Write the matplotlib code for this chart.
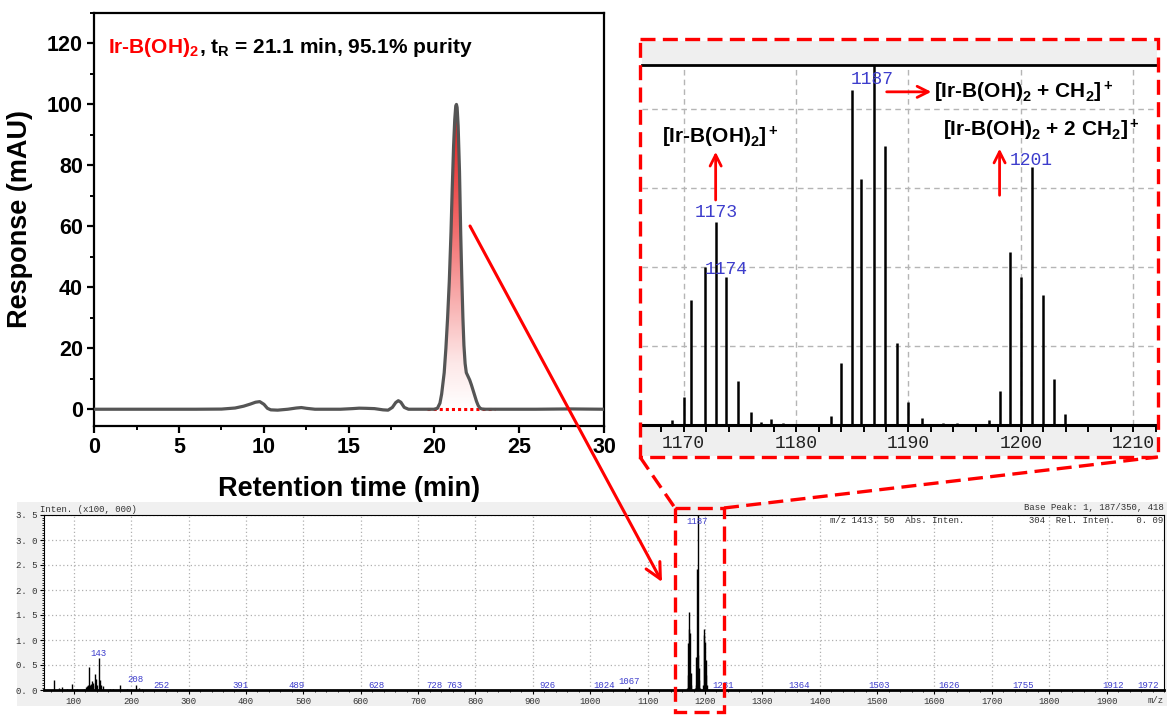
import numpy as np
import matplotlib.pyplot as plt
from matplotlib.colors import LinearSegmentedColormap
from matplotlib.patches import Rectangle
from matplotlib.ticker import MultipleLocator

plt.rcParams['font.family'] = ['Liberation Sans', 'DejaVu Sans']
plt.rcParams['mathtext.fontset'] = 'custom'
plt.rcParams['mathtext.rm'] = 'Liberation Sans:bold'
plt.rcParams['mathtext.it'] = 'Liberation Sans:bold'
plt.rcParams['mathtext.bf'] = 'Liberation Sans:bold'
plt.rcParams['mathtext.default'] = 'rm'

MONO = 'Liberation Mono'
BLUE = '#3d3dcc'
RED = '#ff0000'

# ---- HPLC trace (min, mAU) ----
rt = [0.0, 3.0, 6.0, 7.5, 8.3, 8.8, 9.2, 9.5, 9.75, 10.0, 10.2, 10.4, 10.8,
      11.4, 11.9, 12.2, 12.5, 13.0, 14.5, 15.2, 15.6, 16.0, 16.5, 17.0, 17.3,
      17.55, 17.75, 17.9, 18.05, 18.25, 18.5, 19.0, 20.0, 20.2, 20.35, 20.45,
      20.6, 20.7, 20.8, 20.9, 21.0, 21.07, 21.15, 21.22, 21.28, 21.32, 21.36,
      21.42, 21.5, 21.57, 21.63, 21.7, 21.76, 21.83, 21.9, 22.0, 22.1, 22.2,
      22.3, 22.4, 22.5, 22.6, 22.7, 22.8, 23.0, 24.0, 26.0, 28.0, 30.0]
resp = [0.0, 0.0, 0.0, 0.05, 0.4, 1.0, 1.7, 2.3, 2.5, 1.6, 0.3, -0.2, -0.3,
        0.0, 0.4, 0.55, 0.3, 0.0, 0.0, 0.2, 0.35, 0.3, 0.2, -0.2, -0.3,
        0.6, 2.2, 2.8, 2.3, 0.6, 0.0, 0.0, 0.0, 0.3, 2.0, 5.0,
        12.0, 20.0, 30.0, 42.0, 58.0, 72.0, 86.0, 95.0, 99.5, 100.0, 99.0,
        93.0, 78.0, 58.0, 44.0, 30.0, 21.0, 15.0, 12.0, 10.8, 9.6, 8.0,
        6.2, 4.4, 2.6, 1.2, 0.4, 0.1, 0.0, 0.0, 0.0, 0.1, 0.0]
peak_window = [20.2, 22.8]
baseline_x = [19.6, 23.6]
hplc_xticks = [0, 5, 10, 15, 20, 25, 30]
hplc_yticks = [0, 20, 40, 60, 80, 100, 120]

# ---- MS zoom of the isotope cluster (inset grid units) ----
zoom_mz = [1169.0, 1170.0, 1170.7, 1171.9, 1172.9, 1173.8, 1174.8, 1176.0,
           1176.9, 1177.8, 1178.8, 1183.1, 1184.0, 1185.0, 1185.8, 1186.9,
           1187.9, 1189.0, 1190.0, 1191.2, 1193.1, 1194.3, 1197.2, 1198.1,
           1199.0, 1200.0, 1201.0, 1202.0, 1202.9, 1203.9]
zoom_int = [0.06, 0.36, 1.58, 2.00, 2.57, 1.88, 0.56, 0.17,
            0.04, 0.07, 0.03, 0.11, 0.78, 4.24, 3.11, 4.80,
            3.53, 1.04, 0.29, 0.09, 0.03, 0.03, 0.06, 0.43,
            2.19, 1.88, 3.27, 1.65, 0.58, 0.14]
zoom_xticks = [1170, 1180, 1190, 1200, 1210]
zoom_labels = ['1173', '1174', '1187', '1201']
zoom_label_x = [1172.9, 1173.8, 1186.8, 1200.9]
zoom_label_y = [2.69, 1.97, 4.37, 3.35]

# ---- full MS spectrum (x100,000) ----
full_mz = [65, 75, 80, 88, 97, 105, 117, 121, 123, 125, 126, 128, 130, 131,
           133, 134, 137, 139, 141, 143, 145, 148, 150, 163, 168, 181, 192,
           208, 213, 218, 252, 391, 489, 628, 728, 763, 926, 1024, 1055, 1067,
           1072, 1169, 1170, 1171, 1172, 1173, 1174, 1175, 1176, 1183, 1184,
           1185, 1186, 1187, 1188, 1189, 1190, 1191, 1197, 1198, 1199, 1200,
           1201, 1202, 1203, 1231, 1364, 1503, 1626, 1755, 1912, 1972]
full_int = [0.21, 0.05, 0.07, 0.03, 0.13, 0.03, 0.02, 0.06, 0.08, 0.10, 0.47,
            0.10, 0.12, 0.18, 0.10, 0.15, 0.32, 0.22, 0.10, 0.64, 0.20, 0.10,
            0.08, 0.03, 0.02, 0.11, 0.03, 0.10, 0.05, 0.03, 0.01, 0.01, 0.01,
            0.01, 0.01, 0.01, 0.01, 0.01, 0.03, 0.06, 0.02, 0.05, 0.30, 0.95,
            1.23, 1.56, 1.15, 0.35, 0.10, 0.05, 0.10, 0.67, 2.43, 3.504, 0.70,
            0.44, 0.20, 0.05, 0.10, 1.10, 1.23, 0.96, 0.60, 0.30, 0.10, 0.01,
            0.01, 0.01, 0.01, 0.01, 0.01, 0.01]
full_xticks = list(range(100, 2000, 100))
full_yticks = [0.0, 0.5, 1.0, 1.5, 2.0, 2.5, 3.0, 3.5]
full_labels = ['143', '208', '252', '391', '489', '628', '728', '763', '926',
               '1024', '1067', '1187', '1231', '1364', '1503', '1626', '1755',
               '1912', '1972']
full_label_x = [143, 208, 252, 391, 489, 628, 728, 763, 926, 1024, 1067,
                1187, 1231, 1364, 1503, 1626, 1755, 1912, 1972]
full_label_y = [0.72, 0.2, 0.09, 0.09, 0.09, 0.09, 0.09, 0.09, 0.09, 0.09,
                0.17, 3.38, 0.09, 0.09, 0.09, 0.09, 0.09, 0.09, 0.09]

W, H = 1167, 715
fig = plt.figure(figsize=(W / 100, H / 100), dpi=100)


def box(l, t, r, b):
    # pixel box -> figure fraction
    return [l / W, 1 - b / H, (r - l) / W, (b - t) / H]


# ================= HPLC =================
ax = fig.add_axes(box(94, 13, 604, 426))
t = np.array(rt)
y = np.array(resp)
m = (t >= peak_window[0]) & (t <= peak_window[1])
poly = ax.fill_between(t[m], 0, y[m], facecolor='none', edgecolor='none')
cmap = LinearSegmentedColormap.from_list(
    'rw', [(0, '#ffffff'), (0.15, '#fde8e8'), (0.6, '#f26a6a'), (1, '#e01818')])
grad = np.linspace(0, 1, 256).reshape(-1, 1)
im = ax.imshow(grad, extent=[peak_window[0], peak_window[1], 0, 100],
               origin='lower', aspect='auto', cmap=cmap, zorder=1)
im.set_clip_path(poly.get_paths()[0], transform=ax.transData)
ax.plot(baseline_x, [0, 0], ls=(0, (1, 1)), color=RED, lw=2.2, zorder=2)
ax.plot(t, y, color='#555555', lw=2.3, zorder=3)

ax.set_xlim(0, 30)
ax.set_ylim(-5.5, 130)
ax.set_xticks(hplc_xticks)
ax.set_xticklabels([str(v) for v in hplc_xticks], fontweight='bold')
ax.set_yticks(hplc_yticks)
ax.set_yticklabels([str(v) for v in hplc_yticks], fontweight='bold')
ax.xaxis.set_minor_locator(MultipleLocator(2.5))
ax.yaxis.set_minor_locator(MultipleLocator(10))
ax.tick_params(which='major', direction='out', length=5, width=1.6,
               labelsize=15.5, pad=3)
ax.tick_params(which='minor', direction='out', length=3, width=1.4)
for s in ax.spines.values():
    s.set_linewidth(1.6)
ax.set_xlabel('Retention time (min)', fontsize=19.5, fontweight='bold')
ax.set_ylabel('Response (mAU)', fontsize=19.5, fontweight='bold')
ax.xaxis.set_label_coords(0.5, -0.12)
ax.yaxis.set_label_coords(-0.12, 0.5)

ttl = ax.text(0.82, 117, r'Ir-B(OH)$_2$', color=RED, fontsize=15,
              fontweight='bold', ha='left', va='baseline')
ax.annotate(r', t$_\mathrm{R}$ = 21.1 min, 95.1% purity', xy=(1, 0),
            xycoords=ttl, ha='left', va='bottom', fontsize=15,
            fontweight='bold', color='black')

# ================= MS zoom inset =================
bg2 = fig.add_axes(box(642, 41, 1157, 456))
bg2.set_facecolor('#efefef')
bg2.set_xticks([])
bg2.set_yticks([])
for s in bg2.spines.values():
    s.set_visible(False)

ax2 = fig.add_axes(box(642, 65, 1157, 425))
ax2.vlines(zoom_mz, 0, zoom_int, color='black', lw=1.8)
ax2.set_xlim(1166.3, 1212.1)
ax2.set_ylim(0, 4.56)
ax2.set_xticks(zoom_xticks)
ax2.xaxis.set_minor_locator(MultipleLocator(2))
ax2.set_yticks([1, 2, 3, 4])
ax2.grid(True, ls=(0, (4, 3)), color='#b5b5b5', lw=1)
ax2.tick_params(axis='y', length=0, labelleft=False)
ax2.tick_params(axis='x', which='both', direction='out', length=5, width=1.4,
                labelsize=13, labelcolor='#222222', labelfontfamily=MONO, pad=2)
ax2.spines['left'].set_visible(False)
ax2.spines['right'].set_visible(False)
ax2.spines['top'].set_linewidth(2)
ax2.spines['bottom'].set_linewidth(2.2)

for lab, lx, ly in zip(zoom_labels, zoom_label_x, zoom_label_y):
    ax2.text(lx, ly, lab, color=BLUE, fontsize=13, family=MONO,
             ha='center', va='center')

arrow_kw = dict(arrowstyle='->', color=RED, lw=2, mutation_scale=20,
                shrinkA=0, shrinkB=0)
ax2.text(1173.3, 3.57, r'[Ir-B(OH)$_2$]$^+$', ha='center', va='baseline',
         fontsize=15, fontweight='bold')
ax2.annotate('', xy=(1172.85, 3.46), xytext=(1172.85, 2.85), arrowprops=arrow_kw)
ax2.annotate('', xy=(1192.03, 4.22), xytext=(1188.06, 4.22), arrowprops=arrow_kw)
ax2.text(1192.3, 4.14, r'[Ir-B(OH)$_2$ + CH$_2$]$^+$', ha='left',
         va='baseline', fontsize=15, fontweight='bold')
ax2.text(1193.1, 3.65, r'[Ir-B(OH)$_2$ + 2 CH$_2$]$^+$', ha='left',
         va='baseline', fontsize=15, fontweight='bold')
ax2.annotate('', xy=(1198.1, 3.5), xytext=(1198.1, 2.91), arrowprops=arrow_kw)

# ================= full MS spectrum =================
bg3 = fig.add_axes(box(17, 502, 1167, 706))
bg3.set_facecolor('#f0f0f0')
bg3.set_xticks([])
bg3.set_yticks([])
for s in bg3.spines.values():
    s.set_visible(False)

ax3 = fig.add_axes(box(44, 515, 1164, 690))
ax3.vlines(full_mz, 0, full_int, color='black', lw=1)
ax3.set_xlim(48, 2000)
ax3.set_ylim(0, 3.5)
ax3.set_xticks(full_xticks)
ax3.set_yticks(full_yticks)
ax3.set_yticklabels([('%.1f' % v).replace('.', '. ') for v in full_yticks])
ax3.xaxis.set_minor_locator(MultipleLocator(20))
ax3.yaxis.set_minor_locator(MultipleLocator(0.05))
ax3.grid(True, which='major', ls=(0, (1, 2)), color='#b0b0b0', lw=0.9)
ax3.tick_params(which='major', direction='out', length=3, width=0.8,
                labelsize=6.5, labelcolor='#333333', labelfontfamily=MONO, pad=2)
ax3.tick_params(which='minor', direction='out', length=1.5, width=0.6)
for s in ax3.spines.values():
    s.set_linewidth(0.8)
ax3.spines['bottom'].set_linewidth(2)

txt_kw = dict(transform=ax3.transAxes, family=MONO, fontsize=6.5, color='#333333')
ax3.text(-0.004, 1.03, 'Inten. (x100, 000)', ha='left', va='center', **txt_kw)
ax3.text(1.0, 1.04, 'Base Peak: 1, 187/350, 418', ha='right', va='center', **txt_kw)
ax3.text(0.999, 0.966, 'm/z 1413. 50  Abs. Inten.' + ' ' * 12 + '304  Rel. Inten.    0. 09',
         ha='right', va='center', **txt_kw)
ax3.text(1.0, -0.034, 'm/z', ha='right', va='top', **txt_kw)
for lab, lx, ly in zip(full_labels, full_label_x, full_label_y):
    ax3.text(lx, ly, lab, color=BLUE, fontsize=6.5, family=MONO,
             ha='center', va='center')

# ================= overlay: zoom frame and arrows =================
ov = fig.add_axes([0, 0, 1, 1], zorder=10)
ov.set_xlim(0, W)
ov.set_ylim(H, 0)
ov.axis('off')
dash = (0, (4.5, 2.2))
ov.add_patch(Rectangle((640, 39), 518, 418, fill=False, ec=RED, lw=2.4, ls=dash))
ov.add_patch(Rectangle((675, 508), 49, 204, fill=False, ec=RED, lw=2.4, ls=dash))
ov.plot([640, 675], [457, 508], color=RED, lw=2.4, ls=dash)
ov.plot([724, 1158], [508, 457], color=RED, lw=2.4, ls=dash)
ov.annotate('', xy=(662, 582), xytext=(470, 226),
            arrowprops=dict(arrowstyle='->', color=RED, lw=2.2,
                            mutation_scale=28, shrinkA=0, shrinkB=0))

fig.savefig('out.png', dpi=100)
